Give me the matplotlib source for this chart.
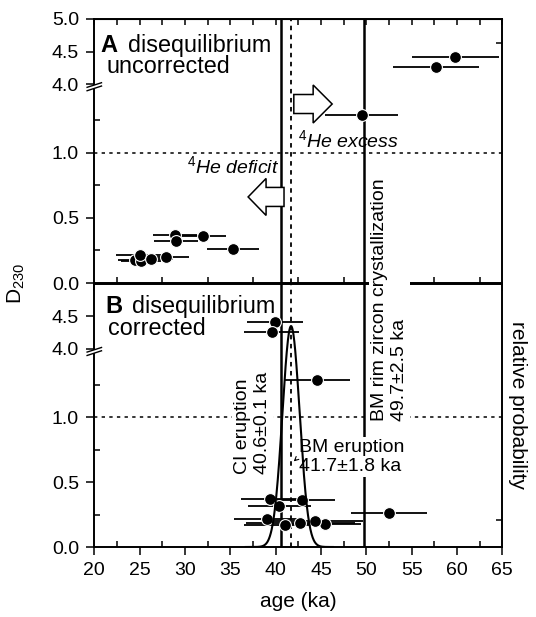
import numpy as np
import matplotlib
matplotlib.use("Agg")
import matplotlib.pyplot as plt
from matplotlib.patches import FancyArrow, Polygon

plt.rcParams["font.family"] = ["Liberation Sans", "DejaVu Sans"]
plt.rcParams["mathtext.fontset"] = "custom"
plt.rcParams["mathtext.rm"] = "Liberation Sans"
plt.rcParams["mathtext.it"] = "Liberation Sans:italic"
plt.rcParams["mathtext.bf"] = "Liberation Sans:bold"

# D230 of each zircon (same grains in both panels)
d230 = [4.42, 4.26, 1.29, 0.370, 0.364, 0.320, 0.260,
        0.178, 0.172, 0.213, 0.185, 0.202]
# panel A: disequilibrium uncorrected ages (ka) and errors
age_unc = [59.8, 57.7, 49.5, 28.9, 32.0, 29.0, 35.3,
           24.5, 25.2, 25.0, 26.3, 27.9]
err_unc = [4.8, 4.7, 4.0, 2.4, 2.5, 2.45, 2.85,
           1.9, 2.2, 2.6, 2.4, 2.5]
# panel B: disequilibrium corrected ages (ka)
age_cor = [39.9, 39.55, 44.6, 39.4, 42.9, 40.4, 52.5,
           45.4, 41.0, 39.0, 42.7, 44.3]
err_cor = [3.1, 3.0, 3.6, 3.2, 3.7, 3.5, 4.2,
           4.0, 4.5, 3.6, 6.0, 5.3]

ci_age = 40.6      # CI eruption
bm_age = 41.7      # BM eruption
bm_sigma = 0.95
rim_age = 49.7     # BM rim zircon crystallization

yticks_a = [0.0, 0.5, 1.0, 4.0, 4.5, 5.0]
yticks_b = [0.0, 0.5, 1.0, 4.0, 4.5]

# broken y axis: 0-1.53 linear, then 4-5 at half scale
BRK_LO, BRK_HI, UP = 1.53, 4.0, 0.5


def fwd(y):
    y = np.asarray(y, dtype=float)
    return np.where(y <= BRK_LO, y,
                    np.where(y >= BRK_HI, BRK_LO + UP * (y - BRK_HI), BRK_LO))


def inv(t):
    t = np.asarray(t, dtype=float)
    return np.where(t <= BRK_LO, t, BRK_HI + (t - BRK_LO) / UP)


W, H = 536, 617
fig = plt.figure(figsize=(W / 100, H / 100), dpi=100)
x0, x1 = 94.3, 502.3
ax_a = fig.add_axes([x0 / W, 1 - 283 / H, (x1 - x0) / W, 264 / H])
ax_b = fig.add_axes([x0 / W, 1 - 547 / H, (x1 - x0) / W, 263 / H])


def style(ax, yticks, hpx):
    ax.set_yscale("function", functions=(fwd, inv))
    ax.set_xlim(20, 65)
    ax.set_ylim(0, 5)
    ax.set_xticks(np.arange(20, 66, 5))
    ax.set_xticks(np.arange(20, 65.1, 2.5), minor=True)
    ax.set_yticks(yticks)
    ax.set_yticklabels(["%.1f" % v for v in yticks])
    ax.set_yticks([0.25, 0.75, 1.25], minor=True)
    ax.tick_params(which="major", direction="out", length=6, width=1.1,
                   labelsize=14, pad=5)
    ax.tick_params(which="minor", direction="in", length=4, width=1.1)
    for s in ax.spines.values():
        s.set_linewidth(1.4)
    ax.axvline(ci_age, color="k", lw=1.8, zorder=1)
    ax.axvline(bm_age, color="k", lw=1.3, ls=(0, (2.5, 2.5)), zorder=1)
    ax.axvline(rim_age, color="k", lw=1.8, zorder=1)
    ax.axhline(1.0, color="k", lw=1.1, ls=(0, (2.2, 2.8)), zorder=1)
    # break marks on the left spine
    yb = fwd(4.0) / fwd(5.0)
    dx, dy = 7.2 / (x1 - x0), 1.0 / hpx
    poly = Polygon([(-dx, yb - 3.3 * dy), (dx, yb + 1.3 * dy),
                    (dx, yb - 2.0 * dy), (-dx, yb - 6.7 * dy)],
                   closed=True, fc="white", ec="none",
                   transform=ax.transAxes, clip_on=False, zorder=5)
    ax.add_patch(poly)
    ax.plot([-dx, dx], [yb - 3.3 * dy, yb + 1.3 * dy], color="k", lw=1.0,
            transform=ax.transAxes, clip_on=False, zorder=6)
    ax.plot([-dx, dx], [yb - 6.7 * dy, yb - 2.0 * dy], color="k", lw=1.0,
            transform=ax.transAxes, clip_on=False, zorder=6)


style(ax_a, yticks_a, 264)
style(ax_b, yticks_b, 263)
ax_a.tick_params(axis="x", labelbottom=False)

sec = ax_a.secondary_xaxis("top")
sec.set_xticks(np.arange(20, 66, 5))
sec.set_xticks(np.arange(20, 65.1, 2.5), minor=True)
sec.tick_params(which="both", direction="in", length=4, width=1.1,
                labeltop=False)

eb = dict(fmt="o", color="k", ms=8.5, mec="white", mew=0.8,
          elinewidth=1.3, capsize=0, zorder=3)
ax_a.errorbar(age_unc, d230, xerr=err_unc, **eb)
ax_b.errorbar(age_cor, d230, xerr=err_cor, **eb)

# relative probability axes
tw_a = ax_a.twinx()
tw_a.set_ylim(0, 1)
tw_a.set_yticks([0.909])
tw_a.set_yticklabels([])
tw_b = ax_b.twinx()
tw_b.set_ylim(0, 1)
tw_b.set_yticks([0.103])
tw_b.set_yticklabels([])
for tw in (tw_a, tw_b):
    tw.tick_params(direction="in", length=4, width=1.1)
    for s in tw.spines.values():
        s.set_visible(False)

xs = np.linspace(36.7, 46.3, 300)
tw_b.plot(xs, 0.84 * np.exp(-0.5 * ((xs - bm_age) / bm_sigma) ** 2),
          color="k", lw=1.5, zorder=2)

# panel titles
ax_a.text(0.014, 0.875, "A", transform=ax_a.transAxes, fontsize=17,
          fontweight="bold", va="baseline")
ax_a.text(0.083, 0.875, "disequilibrium", transform=ax_a.transAxes,
          fontsize=16.8, va="baseline")
ax_a.text(0.031, 0.795, "uncorrected", transform=ax_a.transAxes,
          fontsize=16.8, va="baseline")
ax_b.text(0.026, 0.89, "B", transform=ax_b.transAxes, fontsize=17,
          fontweight="bold", va="baseline")
ax_b.text(0.092, 0.89, "disequilibrium", transform=ax_b.transAxes,
          fontsize=16.8, va="baseline")
ax_b.text(0.034, 0.806, "corrected", transform=ax_b.transAxes,
          fontsize=16.8, va="baseline")

# He excess / deficit
ax_a.text(0.499, 0.515, r"$^{4}\mathit{He\ excess}$", transform=ax_a.transAxes,
          fontsize=14, va="baseline")
ax_a.text(0.227, 0.417, r"$^{4}\mathit{He\ deficit}$", transform=ax_a.transAxes,
          fontsize=14, va="baseline")
ax_a.add_patch(FancyArrow(0.489, 0.678, 0.094, 0, width=0.072, head_width=0.144,
                          head_length=0.0466, length_includes_head=True,
                          transform=ax_a.transAxes, fc="white", ec="k",
                          lw=1.1, zorder=4))
ax_a.add_patch(FancyArrow(0.465, 0.326, -0.088, 0, width=0.072, head_width=0.14,
                          head_length=0.044, length_includes_head=True,
                          transform=ax_a.transAxes, fc="white", ec="k",
                          lw=1.1, zorder=4))

# annotations in panel B
wb = dict(boxstyle="square,pad=0.1", fc="white", ec="none")
ax_b.text(37.44, 0.5615, "CI eruption\n%.1f\u00b10.1 ka" % ci_age,
          rotation=90, rotation_mode="anchor", ha="left", va="center",
          multialignment="left", fontsize=14, bbox=wb, zorder=4)
fig.text(52.55, 0.975, "BM rim zircon crystallization\n%.1f\u00b12.5 ka" % rim_age,
         transform=ax_b.transData, rotation=90, rotation_mode="anchor",
         ha="left", va="center", multialignment="left", fontsize=14,
         bbox=wb, zorder=10)
ax_b.text(42.57, 0.835, "BM eruption\n%.1f\u00b11.8 ka" % bm_age,
          ha="left", va="top", fontsize=14, bbox=wb, zorder=4)
ax_b.annotate("", xy=(41.77, 0.646), xytext=(42.45, 0.69),
              arrowprops=dict(arrowstyle="->", lw=0.8, mutation_scale=7),
              zorder=5)

ax_b.set_xlabel("age (ka)", fontsize=15, labelpad=9)
fig.text(0.03, 0.541, "D$_{230}$", rotation=90, fontsize=15,
         ha="center", va="center")
fig.text(518 / W, 1 - 405 / H, "relative probability", rotation=270,
         fontsize=15, ha="center", va="center")

fig.savefig("out.png", dpi=100)
